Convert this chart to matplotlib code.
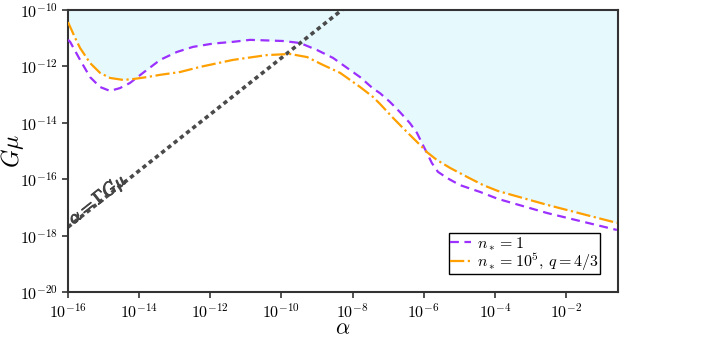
import numpy as np
import matplotlib
matplotlib.use("Agg")
import matplotlib.pyplot as plt
import matplotlib.patheffects as pe

plt.rcParams['mathtext.fontset'] = 'cm'
plt.rcParams['font.family'] = 'serif'
plt.rcParams['font.serif'] = ['cmr10', 'DejaVu Serif']
plt.rcParams['axes.formatter.use_mathtext'] = True

# log10(alpha), log10(G mu)
n1_log_alpha = [-16.0, -15.94, -15.66, -15.38, -15.10, -14.82, -14.54, -14.26, -13.89, -13.41,
                -12.94, -12.49, -12.01, -11.73, -11.36, -10.88, -9.96, -9.48, -9.0, -8.55,
                -8.07, -7.79, -7.43, -7.23, -6.95, -6.67, -6.39, -6.19, -6.05, -5.91,
                -5.77, -5.60, -5.34, -4.98, -4.42, -3.91, -2.53, -0.57]
n1_log_gmu = [-11.06, -11.13, -11.77, -12.38, -12.73, -12.87, -12.77, -12.59, -12.23, -11.77,
              -11.49, -11.31, -11.21, -11.17, -11.13, -11.06, -11.10, -11.17, -11.42, -11.70,
              -12.13, -12.38, -12.78, -12.95, -13.26, -13.62, -14.01, -14.36, -14.72, -15.07,
              -15.43, -15.74, -15.96, -16.21, -16.45, -16.70, -17.20, -17.80]

n5_log_alpha = [-16.0, -15.80, -15.66, -15.38, -15.10, -14.82, -14.45, -14.17, -13.78, -13.41,
                -12.85, -12.29, -11.36, -10.41, -9.76, -9.28, -8.83, -8.35, -7.79, -7.43,
                -7.23, -6.86, -6.47, -6.10, -5.91, -5.63, -5.26, -4.78, -4.33, -3.91,
                -2.53, -0.57]
n5_log_gmu = [-10.43, -10.99, -11.35, -11.88, -12.23, -12.41, -12.48, -12.45, -12.38, -12.30,
              -12.20, -12.02, -11.77, -11.60, -11.56, -11.67, -11.95, -12.23, -12.73, -13.08,
              -13.33, -13.83, -14.33, -14.79, -15.04, -15.32, -15.60, -15.92, -16.21, -16.42,
              -16.91, -17.55]

gamma = 50.0
line_log_alpha = [-16.0, -0.54]

x_lo, x_hi = 1e-16, 10 ** -0.54
y_lo, y_hi = 1e-20, 1e-10

fig = plt.figure(figsize=(7.06, 3.39), dpi=100)
ax = fig.add_axes([0.0963, 0.1386, 0.779, 0.832])

# excluded region: above the upper of the two curves
grid = np.union1d(n1_log_alpha, n5_log_alpha)
upper = np.maximum(np.interp(grid, n1_log_alpha, n1_log_gmu),
                   np.interp(grid, n5_log_alpha, n5_log_gmu))
ax.fill_between(10 ** grid, 10 ** upper, y_hi, color='#e6f9fd', lw=0, zorder=0)

ax.plot(10 ** np.array(n1_log_alpha), 10 ** np.array(n1_log_gmu), color='#9b30ff',
        ls=(0, (4, 2.5)), lw=1.6, label=r'$n_* = 1$', zorder=3)
ax.plot(10 ** np.array(n5_log_alpha), 10 ** np.array(n5_log_gmu), color='#ffa000',
        ls='-.', lw=1.6, label=r'$n_* = 10^5$, $q = 4/3$', zorder=3)

la = 10 ** np.array(line_log_alpha)
ax.plot(la, la / gamma, color='#4a4a4a', ls=(0, (1.2, 1.0)), lw=2.6, zorder=2)
ax.text(10 ** -15.16, 10 ** -16.72, r'$\alpha = \Gamma G\mu$', color='#444444', fontsize=13,
        rotation=38.4, ha='center', va='center', zorder=4,
        path_effects=[pe.withStroke(linewidth=0.8, foreground='#444444')])

ax.set_xscale('log')
ax.set_yscale('log')
ax.set_xlim(x_lo, x_hi)
ax.set_ylim(y_lo, y_hi)
ax.set_xticks([10.0 ** k for k in range(-16, -1, 2)])
ax.set_yticks([10.0 ** k for k in range(-20, -9, 2)])
ax.minorticks_off()
ax.tick_params(labelsize=11.5, length=4, width=1.2, color='#333333', pad=3)
for s in ax.spines.values():
    s.set_color('#333333')
    s.set_linewidth(1.5)

ax.set_xlabel(r'$\alpha$', fontsize=16)
ax.set_ylabel(r'$G\mu$', fontsize=17)
ax.xaxis.set_label_coords(0.5, -0.095)
ax.yaxis.set_label_coords(-0.077, 0.5)

leg = ax.legend(loc='lower right', fontsize=11.5, fancybox=False, edgecolor='black',
                framealpha=1, handlelength=1.3, handletextpad=0.4, labelspacing=-0.1,
                borderpad=0.1, borderaxespad=1.1)
leg.get_frame().set_linewidth(1.0)

fig.savefig('out.png', dpi=100)
